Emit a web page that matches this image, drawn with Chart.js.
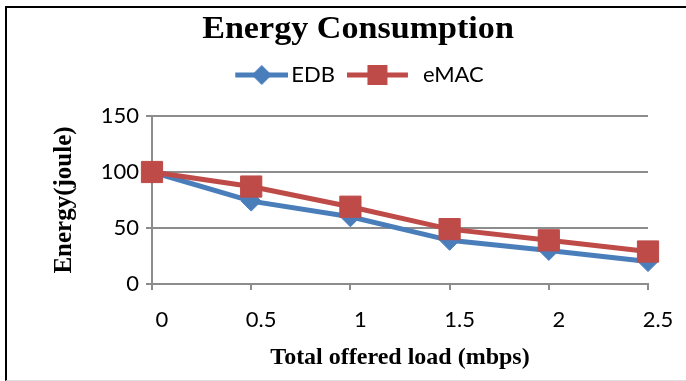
<!DOCTYPE html>
<html>
<head>
<meta charset="utf-8">
<script src="https://cdn.jsdelivr.net/npm/chart.js@4.4.0/dist/chart.umd.min.js"></script>
<style>
  html, body { margin: 0; padding: 0; background: #fff; }
  #wrap { position: relative; width: 686px; height: 381px; overflow: hidden; }
  #frame {
    position: absolute; left: 5px; top: 6px; width: 700px; height: 372px;
    border-left: 2px solid #000; border-top: 2px solid #000; border-bottom: 1px solid #ddd;
    pointer-events: none;
  }
</style>
</head>
<body>
<div id="wrap">
  <canvas id="chart" width="686" height="381"></canvas>
  <div id="frame"></div>
</div>
<script>
// ── Data ────────────────────────────────────────────────────
const loads = ["0", "0.5", "1", "1.5", "2", "2.5"];
const edbEnergy = [100, 74, 60, 39, 30, 20];
const emacEnergy = [100, 87, 69, 49, 39, 29];
const yTicks = [0, 50, 100, 150];

const BLUE = "#4a7ebb";
const RED = "#be4b48";
const SANS = "Lato, 'Open Sans', sans-serif";
const SERIF = "'Liberation Serif', 'Times New Roman', serif";

// Legend swatch: line with the marker in the middle, like the Excel legend.
// The image is centred on the legend box, so the line is placed inside a wider canvas.
function legendSwatch(color, marker, width, lineFrom, lineTo) {
  const c = document.createElement("canvas");
  c.width = width;
  c.height = 22;
  const g = c.getContext("2d");
  const mid = (lineFrom + lineTo) / 2;
  g.strokeStyle = color;
  g.fillStyle = color;
  g.lineWidth = 5;
  g.beginPath();
  g.moveTo(lineFrom, 11);
  g.lineTo(lineTo, 11);
  g.stroke();
  g.beginPath();
  if (marker === "diamond") {
    g.moveTo(mid, 1); g.lineTo(mid + 10, 11); g.lineTo(mid, 21); g.lineTo(mid - 10, 11);
  } else {
    g.rect(mid - 10, 1, 20, 20);
  }
  g.closePath();
  g.fill();
  return c;
}

const swatches = [
  legendSwatch(BLUE, "diamond", 82, 29, 82),
  legendSwatch(RED, "square", 64, 0, 61),
];

// Fix the legend box height, and widen the title a little like the original
const headerBoxes = {
  id: "headerBoxes",
  beforeInit(chart) {
    const title = chart.titleBlock;
    const tDraw = title.draw;
    title.draw = function () {
      const ctx = this.ctx;
      const c = (this.left + this.right) / 2;
      ctx.save();
      ctx.translate(358, 0);
      ctx.scale(1.1, 1);
      ctx.translate(-c, 0);
      tDraw.call(this);
      ctx.restore();
    };
    const lFit = chart.legend.fit;
    chart.legend.fit = function () { lFit.call(this); this.height = 63; };
  },
};

new Chart(document.getElementById("chart"), {
  type: "line",
  data: {
    labels: loads,
    datasets: [
      {
        label: "EDB",
        data: edbEnergy,
        borderColor: BLUE,
        backgroundColor: BLUE,
        borderWidth: 5,
        pointStyle: "rectRot",
        pointRadius: 10,
        pointBorderWidth: 1,
        order: 1,
      },
      {
        label: "eMAC",
        data: emacEnergy,
        borderColor: RED,
        backgroundColor: RED,
        borderWidth: 5,
        pointStyle: "rect",
        pointRadius: 15,
        pointBorderWidth: 1,
        order: 0,
      },
    ],
  },
  options: {
    responsive: false,
    animation: false,
    layout: { padding: { left: 50, right: 38, top: 0, bottom: 0 } },
    plugins: {
      tooltip: { enabled: false },
      title: {
        display: true,
        text: "Energy Consumption",
        color: "#000",
        font: { family: SERIF, size: 31, weight: "bold", lineHeight: 1 },
        padding: { top: 14, bottom: 8 },
      },
      legend: {
        display: true,
        labels: {
          usePointStyle: true,
          pointStyleWidth: 66,
          padding: 11,
          color: "#000",
          font: { family: SANS, size: 22 },
          generateLabels(chart) {
            return chart.data.datasets.map((ds, i) => ({
              text: ds.label,
              datasetIndex: i,
              pointStyle: swatches[i],
              fillStyle: ds.backgroundColor,
              strokeStyle: ds.borderColor,
              lineWidth: 0,
              hidden: false,
              fontColor: "#000",
            }));
          },
        },
      },
    },
    scales: {
      x: {
        offset: false,
        grid: { drawOnChartArea: false, drawTicks: true, tickLength: 6, color: "#8c8c8c", lineWidth: 2 },
        border: { color: "#8c8c8c", width: 2 },
        ticks: { color: "#000", font: { family: SANS, size: 22 }, padding: 17, labelOffset: 10, maxRotation: 0 },
        title: {
          display: true,
          text: "Total offered load (mbps)",
          color: "#000",
          font: { family: SERIF, size: 24, weight: "bold" },
          padding: { top: 4, bottom: 9 },
        },
        afterFit(scale) { scale.height = 97; },
      },
      y: {
        min: 0,
        max: 150,
        afterBuildTicks(scale) { scale.ticks = yTicks.map((v) => ({ value: v })); },
        grid: { color: "#8c8c8c", lineWidth: 2, tickLength: 6 },
        border: { color: "#8c8c8c", width: 2 },
        ticks: { color: "#000", font: { family: SANS, size: 22 }, padding: 7 },
        title: {
          display: true,
          text: "Energy(joule)",
          color: "#000",
          font: { family: SERIF, size: 25, weight: "bold" },
          padding: { top: 0, bottom: 0 },
        },
        afterFit(scale) { scale.width = 102; },
      },
    },
  },
  plugins: [headerBoxes],
});
</script>
</body>
</html>
